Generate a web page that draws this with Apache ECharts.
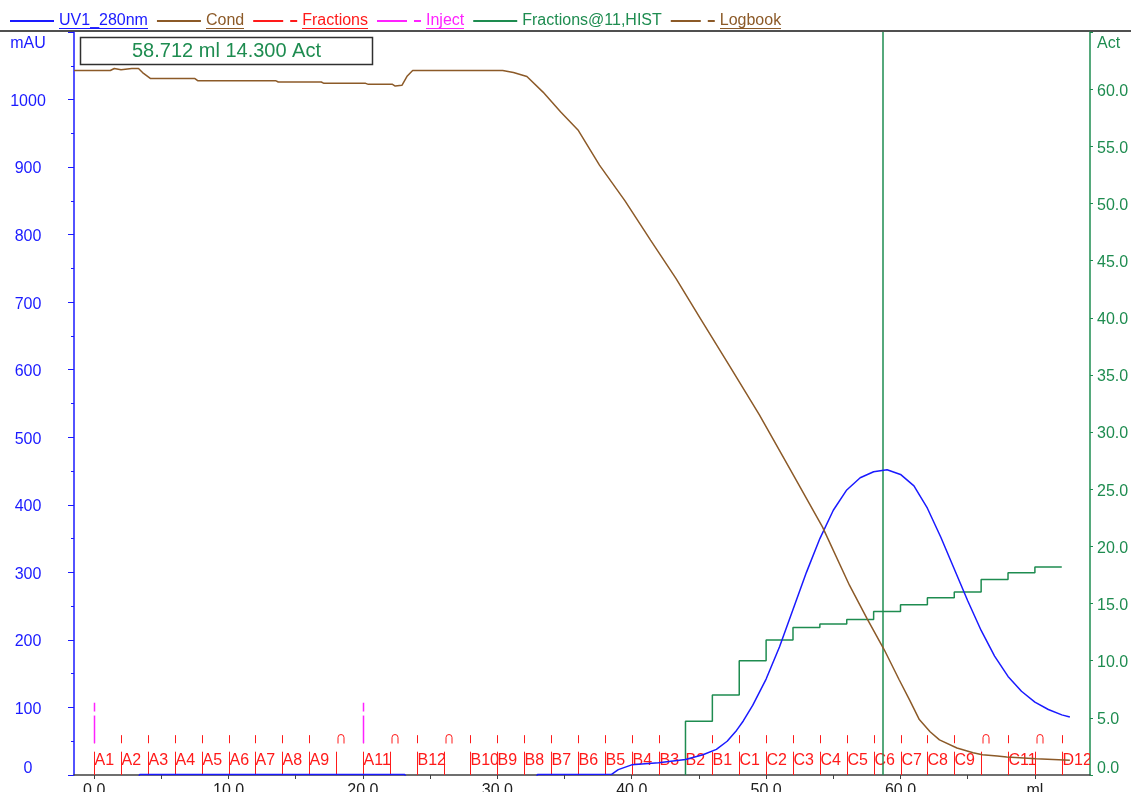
<!DOCTYPE html>
<html>
<head>
<meta charset="utf-8">
<title>UV1_280nm / Cond / Fractions</title>
<script src="https://cdn.jsdelivr.net/npm/echarts@6/dist/echarts.min.js"></script>
<style>
  html, body { margin: 0; padding: 0; background: #ffffff; }
  #chart { width: 1131px; height: 792px; }
</style>
</head>
<body>
<div id="chart"></div>
<script>
// ---- Run data (volume in ml) ----
// UV absorbance at 280 nm, mAU
const uvVolume = [-1.5, 3.3, 3.4, 23.1, 23.2, 32.9, 33.0, 38.5, 39.0, 40, 42, 44, 45.3, 46.3, 47.1, 47.8, 48.3,
  49, 50, 51, 52, 53, 54, 55, 56, 57, 58, 59, 60, 61, 62, 63, 64, 65, 66, 67, 68, 69, 70, 71, 72, 72.6];
const uvValues = [-3, -3, 0.8, 0.8, -3, -3, 0.8, 1, 8, 15, 18, 23, 30, 38, 50, 66, 80,
  103, 142, 190, 245, 300, 350, 392, 422, 440, 449, 452, 445, 428, 395, 352, 305, 258, 214, 176, 146, 124, 108, 97, 89, 86];

// Conductivity trace, drawn against the mAU scale
const condVolume = [-1.5, 0.5, 1.2, 1.5, 2.0, 2.8, 3.3, 3.6, 4.2, 7.5, 7.7, 13.5, 13.7, 16.9, 17.1, 20.2, 20.4, 22.2,
  22.4, 22.9, 23.3, 23.7, 30.4, 31.2, 32.2, 33.4, 34.7, 36, 37.6, 39.5, 41.4, 43.3, 45.1, 47.3, 49.5, 51.8,
  54.2, 56.2, 57.5, 58.8, 59.9, 60.7, 61.4, 62.2, 62.9, 64.2, 65.4, 66.1, 67.2, 67.9, 70.1, 72.6];
const condValues = [1043, 1043, 1043, 1046, 1044, 1046, 1046, 1040, 1031, 1031, 1028, 1028, 1026, 1026, 1024, 1024, 1022.5, 1022.5,
  1020, 1021, 1035, 1043, 1043, 1040, 1034, 1011, 982, 955, 903, 850, 792, 735, 676, 605, 533, 452,
  367, 281, 232, 185, 141, 110, 82, 64, 52, 40, 33, 30, 28, 26.6, 24, 22];

// Activity per collected fraction (histogram), Act
const histStarts = [44, 46, 48, 50, 52, 54, 56, 58, 60, 62, 64, 66, 68, 70];
const histEnd = 72;
const histValues = [4.7, 7.0, 10.0, 11.8, 12.9, 13.2, 13.6, 14.3, 14.9, 15.5, 16.0, 17.1, 17.7, 18.2];

// Fraction collector marks: start volume and well name ('' = not collected)
const fractionStarts = [0, 2, 4, 6, 8, 10, 12, 14, 16, 18, 20, 22, 24, 26, 28, 30, 32, 34, 36,
  38, 40, 42, 44, 46, 48, 50, 52, 54, 56, 58, 60, 62, 64, 66, 68, 70, 72];
const fractionNames = ['A1', 'A2', 'A3', 'A4', 'A5', 'A6', 'A7', 'A8', 'A9', '', 'A11', '', 'B12', '', 'B10', 'B9', 'B8', 'B7', 'B6',
  'B5', 'B4', 'B3', 'B2', 'B1', 'C1', 'C2', 'C3', 'C4', 'C5', 'C6', 'C7', 'C8', 'C9', '', 'C11', '', 'D12'];

// Injection marks
const injectVolumes = [0, 20];

// Cursor readout
const cursorVolume = 58.712;
const cursorAct = 14.3;

// Axis tick positions
const xTickValues = [0, 5, 10, 15, 20, 25, 30, 35, 40, 45, 50, 55, 60, 65, 70];
const xLabelValues = [0, 10, 20, 30, 40, 50, 60, 70];

// ---- Styling ----
const FONT = '"Liberation Sans", Arial, sans-serif';
const BLUE = '#1a1aff';
const BROWN = '#8c5a28';
const RED = '#ff1a1a';
const MAGENTA = '#ff22ff';
const GREEN = '#1e8c50';
const AXIS_DARK = '#404040';

// legend entries: name, colour, icon style, underlined caption
const legendItems = [
  { name: 'UV1_280nm', color: BLUE, dashed: false, underline: true },
  { name: 'Cond', color: BROWN, dashed: false, underline: true },
  { name: 'Fractions', color: RED, dashed: true, underline: true },
  { name: 'Inject', color: MAGENTA, dashed: true, underline: true },
  { name: 'Fractions@11,HIST', color: GREEN, dashed: false, underline: false },
  { name: 'Logbook', color: BROWN, dashed: true, underline: true }
];

function stepPoints(starts, end, values) {
  const pts = [[starts[0], 0]];
  for (let i = 0; i < starts.length; i++) {
    const x1 = i + 1 < starts.length ? starts[i + 1] : end;
    pts.push([starts[i], values[i]]);
    pts.push([x1, values[i]]);
  }
  return pts;
}

const pairs = (xs, ys) => xs.map((x, i) => [x, ys[i]]);

// axis label text styles: plain labels sit a little low, end labels are pulled inwards
function axisRich(color) {
  const base = { color: color, fontFamily: FONT, fontSize: 16 };
  return {
    n: Object.assign({ padding: [4, 0, 0, 0] }, base),
    top: Object.assign({ padding: [24, 0, 0, 0] }, base),
    bot: Object.assign({ padding: [0, 0, 12, 0] }, base)
  };
}

const solidIcon = 'path://M0,0H44V2H0Z';
const dashIcon = 'path://M0,0H30V2H0ZM37,0H44V2H37Z';

const baseGraphic = [
  { id: 'rule', type: 'rect', silent: true, shape: { x: 0, y: 30, width: 1131, height: 2 }, style: { fill: '#505050' } },
  {
    id: 'readout', type: 'group', x: 80.5, y: 37.5, silent: true, children: [
      { type: 'rect', shape: { x: 0, y: 0, width: 292, height: 27 }, style: { fill: '#ffffff', stroke: '#303030', lineWidth: 1.5 } },
      {
        type: 'text', x: 146, y: 14,
        style: {
          text: cursorVolume.toFixed(3) + ' ml ' + cursorAct.toFixed(3) + ' Act',
          fill: GREEN, fontFamily: FONT, fontSize: 20, align: 'center', verticalAlign: 'middle'
        }
      }
    ]
  }
];

const chart = echarts.init(document.getElementById('chart'), null, { renderer: 'canvas' });

const option = {
  animation: false,
  backgroundColor: '#ffffff',
  grid: { left: 74, right: 41, top: 32, bottom: 17, containLabel: false, outerBoundsMode: 'none' },
  legend: {
    left: 5, top: 8,
    itemWidth: 44, itemHeight: 2, itemGap: 9,
    selectedMode: false,
    textStyle: { fontFamily: FONT, fontSize: 16 },
    data: legendItems.map(item => ({
      name: item.name,
      icon: item.dashed ? dashIcon : solidIcon,
      textStyle: { color: item.color }
    }))
  },
  graphic: baseGraphic,
  xAxis: {
    type: 'value', min: -1.5, max: 74.1,
    axisLine: { show: true, onZero: false, lineStyle: { color: AXIS_DARK, width: 1.5 } },
    axisTick: { show: true, customValues: xTickValues, length: 4, lineStyle: { color: AXIS_DARK } },
    axisLabel: {
      customValues: xLabelValues, margin: 8, color: '#202020', fontFamily: FONT, fontSize: 16,
      formatter: v => (v === 70 ? 'ml' : v.toFixed(1))
    },
    splitLine: { show: false }
  },
  yAxis: [
    {
      type: 'value', position: 'left', min: 0, max: 1100, interval: 100,
      axisLine: { show: true, onZero: false, lineStyle: { color: BLUE, width: 1.5 } },
      axisTick: { show: true, length: 6, lineStyle: { color: BLUE } },
      minorTick: { show: true, splitNumber: 2, length: 3, lineStyle: { color: BLUE } },
      axisLabel: {
        align: 'center', margin: 46, color: BLUE, fontFamily: FONT, fontSize: 16,
        formatter: v => (v === 1100 ? '{top|mAU}' : v === 0 ? '{bot|0}' : '{n|' + v + '}'),
        rich: axisRich(BLUE)
      },
      splitLine: { show: false }
    },
    {
      type: 'value', position: 'right', min: 0, max: 65, interval: 5,
      axisLine: { show: true, onZero: false, lineStyle: { color: GREEN, width: 1.5 } },
      axisTick: { show: true, length: 3, lineStyle: { color: GREEN } },
      axisLabel: {
        margin: 7, color: GREEN, fontFamily: FONT, fontSize: 16,
        formatter: v => (v === 65 ? '{top|Act}' : v === 0 ? '{bot|0.0}' : '{n|' + v.toFixed(1) + '}'),
        rich: axisRich(GREEN)
      },
      splitLine: { show: false }
    }
  ],
  series: [
    {
      name: 'Fractions', type: 'custom', xAxisIndex: 0, yAxisIndex: 0,
      itemStyle: { color: RED }, silent: true, clip: true, z: 2,
      data: fractionStarts.map((v, i) => [v, i]),
      encode: { x: 0 },
      renderItem: function (params, api) {
        const v = api.value(0);
        const name = fractionNames[api.value(1)];
        const b = api.coord([v, 0]);
        const top = api.coord([v, 34.5]);
        const x = Math.round(b[0]) + 0.5;
        const children = [
          { type: 'line', shape: { x1: x, y1: b[1], x2: x, y2: top[1] }, style: { stroke: RED, lineWidth: 1 } }
        ];
        if (name) {
          const t1 = api.coord([v, 59]);
          const t2 = api.coord([v, 47]);
          const mid = api.coord([v, 21]);
          children.push({ type: 'line', shape: { x1: x, y1: t1[1], x2: x, y2: t2[1] }, style: { stroke: RED, lineWidth: 1 } });
          children.push({
            type: 'text', x: x, y: mid[1],
            style: { text: name, fill: RED, fontFamily: FONT, fontSize: 16, align: 'left', verticalAlign: 'middle' }
          });
        } else {
          // collection skipped: small arch instead of the tick
          const a = api.coord([v, 56]);
          const f = api.coord([v, 47]);
          const cy = Math.round(a[1]) + 0.5;
          const by = Math.round(f[1]) + 0.5;
          children.push({
            type: 'arc', shape: { cx: x + 4.5, cy: cy, r: 3, startAngle: Math.PI, endAngle: 2 * Math.PI },
            style: { stroke: RED, fill: 'none', lineWidth: 1 }
          });
          children.push({ type: 'line', shape: { x1: x + 1.5, y1: cy, x2: x + 1.5, y2: by }, style: { stroke: RED, lineWidth: 1 } });
          children.push({ type: 'line', shape: { x1: x + 7.5, y1: cy, x2: x + 7.5, y2: by }, style: { stroke: RED, lineWidth: 1 } });
        }
        return { type: 'group', children: children };
      }
    },
    {
      name: 'Inject', type: 'custom', xAxisIndex: 0, yAxisIndex: 0,
      itemStyle: { color: MAGENTA }, silent: true, z: 3,
      data: injectVolumes.map(v => [v, 0]),
      encode: { x: 0 },
      renderItem: function (params, api) {
        const v = api.value(0);
        const a = api.coord([v, 107]);
        const b = api.coord([v, 94]);
        const c = api.coord([v, 88]);
        const d = api.coord([v, 47]);
        const x = Math.round(a[0]) + 0.5;
        return {
          type: 'group', children: [
            { type: 'line', shape: { x1: x, y1: a[1], x2: x, y2: b[1] }, style: { stroke: MAGENTA, lineWidth: 1.5 } },
            { type: 'line', shape: { x1: x, y1: c[1], x2: x, y2: d[1] }, style: { stroke: MAGENTA, lineWidth: 1.5 } }
          ]
        };
      }
    },
    {
      name: 'Fractions@11,HIST', type: 'line', xAxisIndex: 0, yAxisIndex: 1, z: 4,
      data: stepPoints(histStarts, histEnd, histValues),
      showSymbol: false, symbol: 'none', silent: true,
      lineStyle: { color: GREEN, width: 1.5 }, itemStyle: { color: GREEN },
      markLine: {
        symbol: 'none', silent: true, label: { show: false },
        lineStyle: { color: GREEN, type: 'solid', width: 1.5 },
        data: [{ xAxis: cursorVolume }]
      }
    },
    {
      name: 'UV1_280nm', type: 'line', xAxisIndex: 0, yAxisIndex: 0, z: 5,
      data: pairs(uvVolume, uvValues),
      showSymbol: false, symbol: 'none', silent: true, clip: true,
      lineStyle: { color: BLUE, width: 1.5 }, itemStyle: { color: BLUE }
    },
    {
      name: 'Cond', type: 'line', xAxisIndex: 0, yAxisIndex: 0, z: 6,
      data: pairs(condVolume, condValues),
      showSymbol: false, symbol: 'none', silent: true,
      lineStyle: { color: BROWN, width: 1.5 }, itemStyle: { color: BROWN }
    },
    {
      name: 'Logbook', type: 'line', xAxisIndex: 0, yAxisIndex: 0,
      data: [], showSymbol: false, silent: true,
      lineStyle: { color: BROWN, width: 1.5 }, itemStyle: { color: BROWN }
    }
  ]
};

chart.setOption(option);

// underline the legend captions at the positions the legend laid them out
function underlineLegend() {
  const zr = chart.getZr();
  const list = zr.storage.getDisplayList(true);
  const marks = [];
  legendItems.forEach((item, i) => {
    if (!item.underline) return;
    const el = list.find(e => e.style && e.style.text === item.name);
    if (!el) return;
    const r = el.getBoundingRect().clone();
    const m = el.getComputedTransform();
    if (m) r.applyTransform(m);
    marks.push({
      id: 'ul' + i, type: 'rect', silent: true,
      shape: { x: Math.round(r.x), y: Math.round(r.y + r.height) - 1, width: Math.round(r.width), height: 1 },
      style: { fill: item.color }
    });
  });
  chart.setOption({ graphic: baseGraphic.concat(marks) });
}
underlineLegend();
</script>
</body>
</html>
